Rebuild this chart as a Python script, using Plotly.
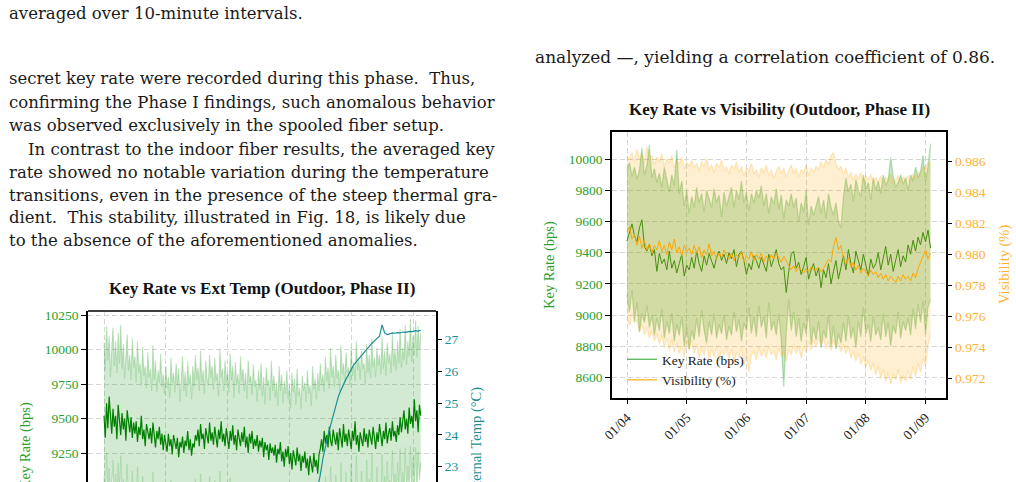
import pandas as pd
import plotly.graph_objects as go

W, H = 1016, 482

# ---------------- Right chart data (hourly, starting 2025-01-04 00:00) ----------------
kr_mean = [9475, 9540, 9585, 9510, 9470, 9560, 9612, 9440, 9410, 9455, 9380, 9420, 9280,
           9395, 9330, 9360, 9290, 9410, 9300, 9350, 9270, 9330, 9390, 9250, 9320, 9290,
           9370, 9300, 9410, 9330, 9280, 9380, 9320, 9395, 9340, 9300, 9370, 9410, 9350, 9390, 9330,
           9400, 9360, 9420, 9310, 9390, 9410, 9350, 9260, 9330, 9290, 9380, 9350,
           9300, 9370, 9330, 9280, 9390, 9310, 9360, 9420, 9330, 9290, 9310, 9145, 9280,
           9390, 9410, 9300, 9340, 9260, 9310, 9370, 9230, 9290, 9330,
           9250, 9300, 9175, 9290, 9240, 9330, 9200, 9280, 9350, 9230, 9310,
           9380, 9290, 9420, 9330, 9270, 9410, 9340, 9290, 9390, 9310, 9250, 9360, 9300, 9330,
           9400, 9290, 9370, 9440, 9320, 9390, 9280, 9350, 9420, 9310, 9380, 9340,
           9450, 9390, 9480, 9410, 9500, 9450, 9530, 9470, 9545, 9430]

kr_upper = [9920, 9980, 9890, 9950, 9870, 9930, 10070, 9900, 9960, 10090, 9880, 9940, 9850,
            9910, 9820, 9950, 9870, 9790, 9900, 9830, 10060, 9780, 9860, 9700, 9800, 9650,
            9760, 9690, 9820, 9720, 9780, 9660, 9800, 9740, 9690, 9810, 9720, 9770, 9630, 9790, 9700,
            9760, 9820, 9690, 9800, 9740, 9860, 9720, 9790, 9670, 9780, 9720, 9800,
            9750, 9830, 9700, 9780, 9650, 9760, 9710, 9810, 9680, 9770, 9620, 9740, 9700,
            9780, 9690, 9750, 9600, 9720, 9660, 9800, 9580, 9700, 9640,
            9700, 9760, 9650, 9740, 9620, 9780, 9690, 9640, 9720, 9600, 9560,
            9760, 9880, 9790, 9840, 9730, 9870, 9800, 9760, 9900, 9810, 9850, 9740, 9880, 9800,
            9860, 9780, 9900, 9830, 9870, 10010, 9890, 9820, 9850, 9900, 9840, 9880,
            9800, 9900, 9860, 9950, 9880, 9920, 10025, 9860, 9950, 10100]

kr_lower = [9130, 9020, 9160, 8960, 9080, 8890, 9010, 8950, 9060, 8920, 9000, 8870, 8980,
            8900, 9040, 8850, 8960, 8880, 9010, 8830, 8940, 8870, 8990, 8800, 8920, 8780,
            8900, 8840, 8980, 8860, 9030, 8900, 8820, 8960, 8870, 9010, 8850, 8940, 8880, 9000, 8840,
            8930, 8870, 9020, 8890, 8970, 8830, 8950, 8900, 9050, 8880, 8990, 8860,
            9060, 8920, 8990, 8850, 9080, 8900, 8960, 8870, 9010, 8840, 8540, 8880, 9100,
            8900, 9020, 8860, 8980, 8830, 8950, 8880, 9040, 8810, 8920,
            8840, 8960, 8790, 8900, 8850, 9000, 8800, 8930, 8780, 8880, 8820,
            8950, 8830, 8990, 8850, 8920, 8790, 8960, 8860, 9050, 8880, 8940, 8830, 8990, 8870,
            8920, 8840, 9010, 8860, 8950, 8800, 8930, 8880, 9020, 8850, 8960, 8900,
            8980, 8870, 9040, 8910, 9070, 8950, 9090, 8880, 9050, 9100]

vis_mean = [0.9815, 0.9818, 0.9810, 0.9813, 0.9806, 0.9812, 0.9804, 0.9809, 0.9803, 0.9807, 0.9801, 0.9806, 0.9803,
            0.9809, 0.9802, 0.9806, 0.9800, 0.9808, 0.9803, 0.9810, 0.9801, 0.9805, 0.9799, 0.9806, 0.9802, 0.9804,
            0.9800, 0.9806, 0.9801, 0.9805, 0.9798, 0.9803, 0.9800, 0.9807, 0.9799, 0.9802, 0.9797, 0.9801, 0.9798, 0.9803, 0.9800,
            0.9797, 0.9801, 0.9796, 0.9800, 0.9798, 0.9802, 0.9795, 0.9799, 0.9797, 0.9802, 0.9796, 0.9800,
            0.9797, 0.9801, 0.9795, 0.9799, 0.9796, 0.9800, 0.9797, 0.9801, 0.9798, 0.9795, 0.9799, 0.9796, 0.9792,
            0.9790, 0.9793, 0.9789, 0.9792, 0.9790, 0.9788, 0.9791, 0.9789, 0.9792, 0.9790,
            0.9790, 0.9792, 0.9789, 0.9791, 0.9794, 0.9797, 0.9795, 0.9805, 0.9811, 0.9803, 0.9806,
            0.9797, 0.9794, 0.9798, 0.9792, 0.9795, 0.9790, 0.9793, 0.9788, 0.9791, 0.9789, 0.9786, 0.9790, 0.9787, 0.9789,
            0.9785, 0.9788, 0.9784, 0.9787, 0.9783, 0.9786, 0.9784, 0.9782, 0.9786, 0.9783, 0.9787, 0.9784,
            0.9786, 0.9783, 0.9788, 0.9785, 0.9791, 0.9795, 0.9799, 0.9803, 0.9797, 0.9801]

vis_upper = [0.9864, 0.9861, 0.9866, 0.9860, 0.9868, 0.9862, 0.9865, 0.9859, 0.9870, 0.9861, 0.9864, 0.9858, 0.9863,
             0.9860, 0.9865, 0.9857, 0.9862, 0.9859, 0.9864, 0.9856, 0.9861, 0.9858, 0.9863, 0.9855, 0.9860, 0.9857,
             0.9861, 0.9856, 0.9859, 0.9854, 0.9860, 0.9857, 0.9862, 0.9855, 0.9858, 0.9853, 0.9859, 0.9856, 0.9861, 0.9854, 0.9857,
             0.9852, 0.9858, 0.9855, 0.9860, 0.9853, 0.9857, 0.9851, 0.9856, 0.9854, 0.9859, 0.9852, 0.9855,
             0.9850, 0.9856, 0.9853, 0.9858, 0.9851, 0.9855, 0.9849, 0.9854, 0.9857, 0.9852, 0.9856, 0.9850, 0.9854,
             0.9858, 0.9852, 0.9856, 0.9850, 0.9855, 0.9853, 0.9858, 0.9851, 0.9856, 0.9853,
             0.9857, 0.9855, 0.9860, 0.9856, 0.9862, 0.9858, 0.9864, 0.9866, 0.9859, 0.9855, 0.9857,
             0.9852, 0.9856, 0.9850, 0.9853, 0.9848, 0.9852, 0.9849, 0.9853, 0.9847, 0.9851, 0.9848, 0.9852, 0.9846, 0.9850,
             0.9847, 0.9851, 0.9846, 0.9850, 0.9848, 0.9852, 0.9846, 0.9849, 0.9851, 0.9847, 0.9850, 0.9848,
             0.9851, 0.9847, 0.9852, 0.9849, 0.9854, 0.9851, 0.9857, 0.9855, 0.9860, 0.9858]

vis_lower = [0.9760, 0.9754, 0.9762, 0.9756, 0.9758, 0.9750, 0.9755, 0.9748, 0.9753, 0.9746, 0.9751, 0.9744, 0.9749,
             0.9742, 0.9748, 0.9740, 0.9746, 0.9738, 0.9745, 0.9737, 0.9743, 0.9736, 0.9741, 0.9734, 0.9744, 0.9738,
             0.9745, 0.9736, 0.9742, 0.9733, 0.9740, 0.9735, 0.9743, 0.9732, 0.9739, 0.9734, 0.9741, 0.9731, 0.9738, 0.9735, 0.9740,
             0.9733, 0.9739, 0.9730, 0.9737, 0.9734, 0.9740, 0.9728, 0.9736, 0.9724, 0.9735, 0.9738, 0.9732,
             0.9740, 0.9734, 0.9739, 0.9733, 0.9741, 0.9735, 0.9738, 0.9732, 0.9740, 0.9734, 0.9737, 0.9731, 0.9739,
             0.9735, 0.9742, 0.9736, 0.9740, 0.9733, 0.9741, 0.9737, 0.9744, 0.9738, 0.9745,
             0.9740, 0.9747, 0.9741, 0.9746, 0.9739, 0.9744, 0.9738, 0.9745, 0.9740, 0.9743, 0.9737,
             0.9742, 0.9736, 0.9740, 0.9733, 0.9738, 0.9731, 0.9736, 0.9729, 0.9734, 0.9727, 0.9732, 0.9725, 0.9730, 0.9722,
             0.9728, 0.9720, 0.9726, 0.9718, 0.9724, 0.9716, 0.9723, 0.9719, 0.9726, 0.9717, 0.9722, 0.9718,
             0.9725, 0.9719, 0.9728, 0.9721, 0.9730, 0.9724, 0.9733, 0.9728, 0.9742, 0.9748]

right_ticks = ["2025-01-04", "2025-01-05", "2025-01-06", "2025-01-07", "2025-01-08", "2025-01-09"]
right_ticktext = ["01/04", "01/05", "01/06", "01/07", "01/08", "01/09"]
kr_ticks = [8600, 8800, 9000, 9200, 9400, 9600, 9800, 10000]
vis_ticks = [0.972, 0.974, 0.976, 0.978, 0.980, 0.982, 0.984, 0.986]

# ---------------- Left chart data (30-minute steps) ----------------
ext_mean = [9520, 9360, 9610, 9430, 9660, 9480, 9390, 9570, 9440, 9520, 9350, 9600,
            9470, 9380, 9540, 9420, 9500, 9340, 9560, 9450, 9400, 9510, 9360, 9470,
            9390, 9480, 9330, 9440, 9380, 9520, 9350, 9420, 9300, 9460, 9390, 9350,
            9430, 9320, 9470, 9380, 9290, 9410, 9350, 9440, 9310, 9390, 9270, 9380,
            9330, 9260, 9390, 9300, 9350, 9240, 9380, 9310, 9280, 9360, 9220, 9330,
            9290, 9370, 9250, 9340, 9300, 9410, 9270, 9350, 9230, 9320, 9290, 9380,
            9340, 9420, 9300, 9460, 9350, 9390, 9280, 9430, 9360, 9320, 9470, 9340,
            9400, 9310, 9440, 9370, 9290, 9420, 9350, 9480, 9330, 9390, 9300, 9430,
            9360, 9280, 9410, 9340, 9450, 9310, 9380, 9270, 9420, 9350, 9300, 9400,
            9330, 9440, 9290, 9370, 9250, 9390, 9320, 9410, 9280, 9350, 9300, 9380,
            9260, 9340, 9290, 9360, 9220, 9330, 9270, 9310, 9200, 9320, 9250, 9290,
            9230, 9310, 9180, 9280, 9240, 9330, 9190, 9260, 9150, 9280, 9220, 9300,
            9170, 9250, 9130, 9270, 9210, 9160, 9290, 9190, 9240, 9120, 9230, 9180,
            9260, 9140, 9210, 9090, 9230, 9170, 9110, 9250, 9150, 9200, 9100, 9240,
            9280, 9350, 9260, 9410, 9320, 9380, 9290, 9440, 9340, 9300, 9420, 9360,
            9310, 9400, 9270, 9430, 9350, 9290, 9460, 9330, 9390, 9300, 9420, 9360,
            9280, 9410, 9340, 9480, 9310, 9380, 9260, 9400, 9350, 9300, 9430, 9330,
            9390, 9290, 9420, 9350, 9310, 9440, 9360, 9280, 9400, 9330, 9460, 9370,
            9300, 9410, 9350, 9470, 9320, 9390, 9430, 9340, 9480, 9370, 9410, 9330,
            9450, 9380, 9510, 9400, 9470, 9560, 9420, 9500, 9390, 9580, 9460, 9520,
            9430, 9640, 9480, 9560, 9400, 9600, 9520]

ext_upper = [10050, 9850, 10170, 9920, 10100, 9800, 10000, 10160, 9880, 10060, 9830, 10120,
             9900, 10180, 9860, 10040, 9790, 9990, 10110, 9850, 9960, 9780, 10080, 9870,
             9950, 9760, 10060, 9830, 9900, 9740, 10020, 9810, 9880, 9720, 9980, 9800,
             9860, 9700, 10030, 9780, 9920, 9690, 9850, 9760, 9970, 9730, 9820, 9680,
             9880, 9720, 9800, 9650, 9940, 9760, 9830, 9690, 9900, 9740, 9860, 9620,
             9790, 9950, 9700, 9840, 9660, 9910, 9750, 9820, 9640, 9880, 9730, 9960,
             9780, 9870, 9700, 9990, 9760, 9850, 9680, 9920, 9790, 9740, 9960, 9800,
             9880, 9710, 9940, 9770, 9830, 9660, 10000, 9800, 9860, 9700, 9920, 9760,
             9840, 9690, 9970, 9780, 9880, 9650, 9910, 9750, 9820, 9680, 9950, 9770,
             9860, 9700, 9830, 9640, 9920, 9760, 9810, 9670, 9890, 9730, 9780, 9620,
             9850, 9710, 9900, 9660, 9800, 9600, 9870, 9740, 9780, 9630, 9920, 9700,
             9810, 9650, 9760, 9590, 9880, 9700, 9820, 9610, 9770, 9680, 9850, 9640,
             9740, 9580, 9830, 9690, 9790, 9600, 9860, 9660, 9720, 9570, 9810, 9700,
             9760, 9620, 9850, 9680, 9740, 9590, 9880, 9710, 9790, 9640, 9830, 9700,
             9900, 9740, 9820, 9690, 9950, 9770, 9870, 9720, 10010, 9800, 9880, 9730,
             9960, 9790, 9850, 9700, 10030, 9820, 9900, 9760, 9980, 9830, 9870, 9740,
             10020, 9810, 9910, 9770, 10060, 9850, 9930, 9780, 9990, 9860, 9900, 9750,
             10040, 9830, 9960, 9790, 10080, 9870, 9940, 9800, 10010, 9880, 9960, 9820,
             10090, 9860, 9990, 9810, 10050, 9900, 9970, 9830, 10120, 9880, 10000, 9850,
             10060, 9900, 10150, 9870, 10010, 9920, 10180, 9890, 10060, 9950, 10220, 9910,
             10100, 9960, 10210, 9940, 10170, 10000, 10120]

ext_lower = [9080, 8800, 9250, 8920, 9140, 8760, 9010, 9200, 8850, 9100, 8780, 9180,
             8900, 9230, 8820, 9060, 8740, 8980, 9170, 8830, 9020, 8720, 9120, 8860,
             8970, 8700, 9150, 8810, 8930, 8680, 9080, 8790, 8900, 8650, 9040, 8760,
             8880, 8640, 9110, 8780, 8950, 8660, 8860, 8730, 9020, 8690, 8840, 8620,
             8960, 8700, 8830, 8610, 9050, 8740, 8880, 8650, 8990, 8720, 8900, 8600,
             8800, 9030, 8680, 8870, 8620, 9000, 8730, 8850, 8590, 8960, 8710, 9060,
             8780, 8920, 8660, 9100, 8750, 8890, 8640, 9010, 8800, 8720, 9080, 8790,
             8940, 8670, 9050, 8760, 8860, 8610, 9120, 8800, 8900, 8680, 9020, 8740,
             8880, 8650, 9070, 8770, 8930, 8600, 9000, 8740, 8850, 8660, 9040, 8760,
             8900, 8660, 8860, 8590, 9010, 8740, 8830, 8620, 8970, 8700, 8800, 8570,
             8910, 8680, 8980, 8630, 8820, 8560, 8940, 8720, 8790, 8600, 9010, 8680,
             8830, 8580, 8760, 8540, 8920, 8660, 8840, 8560, 8780, 8640, 8900, 8590,
             8740, 8530, 8860, 8650, 8800, 8550, 8910, 8620, 8720, 8520, 8850, 8660,
             8780, 8580, 8900, 8640, 8750, 8540, 8960, 8680, 8810, 8600, 8880, 8690,
             9000, 8740, 8870, 8660, 9080, 8780, 8930, 8700, 9150, 8810, 8950, 8720,
             9090, 8790, 8900, 8680, 9180, 8830, 8980, 8740, 9110, 8850, 8920, 8730,
             9170, 8820, 8990, 8760, 9230, 8870, 9010, 8780, 9120, 8880, 8960, 8750,
             9200, 8840, 9060, 8790, 9250, 8900, 9030, 8800, 9150, 8910, 9040, 8820,
             9240, 8880, 9080, 8810, 9190, 8930, 9050, 8840, 9270, 8900, 9100, 8860,
             9180, 8920, 9280, 8880, 9110, 8950, 9290, 8910, 9160, 8980, 9300, 8940,
             9220, 9000, 9290, 8970, 9260, 9050, 9180]

# external temperature, hourly from 2025-01-07 10:00 (hour 82) onwards
temp_start = "2025-01-07 10:00"
ext_temp = [21.9, 22.3, 22.75, 23.25, 23.65, 24.0, 24.3, 24.6, 24.95, 25.2, 25.4, 25.6, 25.75, 25.9,
            26.05, 26.2, 26.3, 26.4, 26.5, 26.6, 26.7, 26.78, 26.87, 26.95, 27.03, 27.1, 27.45, 27.2,
            27.15, 27.18, 27.2, 27.19, 27.21, 27.2, 27.23, 27.22, 27.24, 27.25, 27.24, 27.27, 27.26, 27.28]

left_days = ["2025-01-04", "2025-01-05", "2025-01-06", "2025-01-07", "2025-01-08", "2025-01-09"]
ext_kr_ticks = [9250, 9500, 9750, 10000, 10250]
temp_ticks = [23, 24, 25, 26, 27]

# ---------------- helpers ----------------
def px(x, y):
    return x / W, 1 - y / H

t_right = pd.date_range("2025-01-04 00:00", periods=len(kr_mean), freq="h")
t_left = pd.date_range("2025-01-04 00:00", periods=len(ext_mean), freq="30min")
t_temp = pd.date_range(temp_start, periods=len(ext_temp), freq="h")

SERIF = "Liberation Serif"
BODY = "DejaVu Serif"
GREEN_TXT = "#2ca02c"
ORANGE_TXT = "#ffb22e"
TEAL = "#1a8f96"
GRID = dict(showgrid=True, gridcolor="#d4d4d4", gridwidth=1, griddash="5px,3px")

fig = go.Figure()

# ---------- right chart traces ----------
fig.add_trace(go.Scatter(x=t_right, y=kr_upper, mode="lines", line=dict(color="rgba(44,160,44,0.30)", width=1.3),
                         xaxis="x2", yaxis="y2", showlegend=False, hoverinfo="skip"))
fig.add_trace(go.Scatter(x=t_right, y=kr_lower, mode="lines", line=dict(color="rgba(44,160,44,0.30)", width=1.3),
                         fill="tonexty", fillcolor="rgba(44,160,44,0.25)",
                         xaxis="x2", yaxis="y2", showlegend=False, hoverinfo="skip"))
fig.add_trace(go.Scatter(x=t_right, y=kr_mean, mode="lines", line=dict(color="#1e8a12", width=1.0),
                         xaxis="x2", yaxis="y2", showlegend=False))
fig.add_trace(go.Scatter(x=t_right, y=vis_upper, mode="lines", line=dict(color="rgba(255,165,0,0.22)", width=1.3),
                         xaxis="x2", yaxis="y3", showlegend=False, hoverinfo="skip"))
fig.add_trace(go.Scatter(x=t_right, y=vis_lower, mode="lines", line=dict(color="rgba(255,165,0,0.22)", width=1.3),
                         fill="tonexty", fillcolor="rgba(255,165,0,0.18)",
                         xaxis="x2", yaxis="y3", showlegend=False, hoverinfo="skip"))
fig.add_trace(go.Scatter(x=t_right, y=vis_mean, mode="lines", line=dict(color="#ffa500", width=1.0),
                         xaxis="x2", yaxis="y3", showlegend=False))
# legend entries
fig.add_trace(go.Scatter(x=[None], y=[None], mode="lines", line=dict(color="rgba(44,160,44,0.8)", width=1.3),
                         xaxis="x2", yaxis="y2", name="Key Rate (bps)"))
fig.add_trace(go.Scatter(x=[None], y=[None], mode="lines", line=dict(color="rgba(255,165,0,0.85)", width=1.3),
                         xaxis="x2", yaxis="y3", name="Visibility (%)"))

# ---------- left chart traces ----------
fig.add_trace(go.Scatter(x=t_left, y=ext_upper, mode="lines", line=dict(color="rgba(44,160,44,0.28)", width=1.1),
                         xaxis="x", yaxis="y", showlegend=False, hoverinfo="skip"))
fig.add_trace(go.Scatter(x=t_left, y=ext_lower, mode="lines", line=dict(color="rgba(44,160,44,0.28)", width=1.1),
                         fill="tonexty", fillcolor="rgba(44,160,44,0.22)",
                         xaxis="x", yaxis="y", showlegend=False, hoverinfo="skip"))
fig.add_trace(go.Scatter(x=t_left, y=ext_mean, mode="lines", line=dict(color="#008000", width=1.2),
                         xaxis="x", yaxis="y", showlegend=False))
fig.add_trace(go.Scatter(x=t_temp, y=ext_temp, mode="lines", line=dict(color=TEAL, width=1.2),
                         xaxis="x", yaxis="y4", showlegend=False))

tickfont = dict(family=SERIF, size=13.5)

fig.update_layout(
    width=W, height=H, margin=dict(l=0, r=0, t=0, b=0, autoexpand=False),
    paper_bgcolor="white", plot_bgcolor="rgba(0,0,0,0)",
    font=dict(family=SERIF, color="#111"),
    # left chart
    xaxis=dict(domain=[88 / W, 436 / W], type="date", automargin=False,
               range=["2025-01-03 17:47", "2025-01-09 08:56"],
               tickvals=left_days, showticklabels=False, ticks="", showline=False, zeroline=False, **GRID),
    yaxis=dict(domain=[0, 1 - 311 / H], range=[9040, 10279], tickvals=ext_kr_ticks, tickformat="d",
               automargin=False,
               tickfont=dict(tickfont, color=GREEN_TXT), ticks="outside", ticklen=5, tickcolor="black",
               showline=True, linecolor="black", linewidth=1.5, mirror=True, zeroline=False, **GRID),
    yaxis4=dict(overlaying="y", side="right", anchor="x", range=[22.52, 27.889], tickvals=temp_ticks,
                automargin=False,
                tickfont=dict(tickfont, color=TEAL), ticks="outside", ticklen=5, tickcolor="black",
                showgrid=False, zeroline=False, showline=False),
    # right chart
    xaxis2=dict(domain=[612 / W, 946.3 / W], type="date", anchor="y2", automargin=False,
                range=["2025-01-03 17:58", "2025-01-09 08:21"],
                tickvals=right_ticks, ticktext=right_ticktext, tickangle=-45,
                tickfont=dict(family=SERIF, size=13.5, color="#222"),
                ticks="outside", ticklen=5, tickcolor="black",
                showline=True, linecolor="black", linewidth=1.5, mirror=True, zeroline=False, **GRID),
    yaxis2=dict(domain=[1 - 397.7 / H, 1 - 132.3 / H], anchor="x2", range=[8469, 10173], tickvals=kr_ticks,
                tickformat="d", automargin=False,
                tickfont=dict(tickfont, color=GREEN_TXT), ticks="outside", ticklen=5, tickcolor="black",
                showline=True, linecolor="black", linewidth=1.5, mirror=True, zeroline=False, **GRID),
    yaxis3=dict(overlaying="y2", side="right", anchor="x2", range=[0.97075, 0.9879], tickvals=vis_ticks,
                automargin=False,
                tickformat=".3f", tickfont=dict(tickfont, color=ORANGE_TXT), ticks="outside", ticklen=5,
                tickcolor="black", showgrid=False, zeroline=False, showline=False),
    legend=dict(x=622 / W, y=1 - 344 / H, xanchor="left", yanchor="top", bgcolor="rgba(0,0,0,0)",
                font=dict(family=SERIF, size=13.5, color="#222"), itemwidth=30, tracegroupgap=0,
                traceorder="normal"),
    showlegend=True,
)

# top spine of the left chart
fig.add_shape(type="line", xref="paper", yref="paper", x0=88 / W, x1=436 / W, y0=1 - 311 / H, y1=1 - 311 / H,
              line=dict(color="black", width=1.5))

ann = []
def text(x, y, s, size=16.5, anchor="left", color="#1a1a1a", bold=False, angle=0, family=BODY):
    ax, ay = px(x, y)
    ann.append(dict(x=ax, y=ay, xref="paper", yref="paper", text=("<b>%s</b>" % s) if bold else s,
                    showarrow=False, xanchor=anchor, yanchor="middle", textangle=angle, align="left",
                    font=dict(family=family, size=size, color=color)))

# body text
text(7, 13, "averaged over 10-minute intervals.")
text(7, 79, "secret key rate were recorded during this phase.  Thus,")
text(7, 102, "confirming the Phase I findings, such anomalous behavior")
text(7, 126, "was observed exclusively in the spooled fiber setup.")
text(26, 149, "In contrast to the indoor fiber results, the averaged key")
text(7, 172, "rate showed no notable variation during the temperature")
text(7, 195, "transitions, even in the presence of the steep thermal gra-")
text(7, 218, "dient.  This stability, illustrated in Fig. 18, is likely due")
text(7, 240, "to the absence of the aforementioned anomalies.")
text(533, 57, "analyzed \u2014, yielding a correlation coefficient of 0.86.", size=17)

# chart titles
text(779, 110, "Key Rate vs Visibility (Outdoor, Phase II)", size=17, anchor="center", color="#111", bold=True, family=SERIF)
text(262, 288, "Key Rate vs Ext Temp (Outdoor, Phase II)", size=17, anchor="center", color="#111", bold=True, family=SERIF)

# axis titles
text(549, 265, "Key Rate (bps)", size=14.5, anchor="center", color=GREEN_TXT, angle=-90, family=SERIF)
text(1004, 265, "Visibility (%)", size=14.5, anchor="center", color=ORANGE_TXT, angle=-90, family=SERIF)
text(25, 446, "Key Rate (bps)", size=14.5, anchor="center", color=GREEN_TXT, angle=-90, family=SERIF)
text(476, 444, "External Temp (\u00b0C)", size=14.5, anchor="center", color=TEAL, angle=-90, family=SERIF)

fig.update_layout(annotations=ann)
fig.write_html("out.html")
